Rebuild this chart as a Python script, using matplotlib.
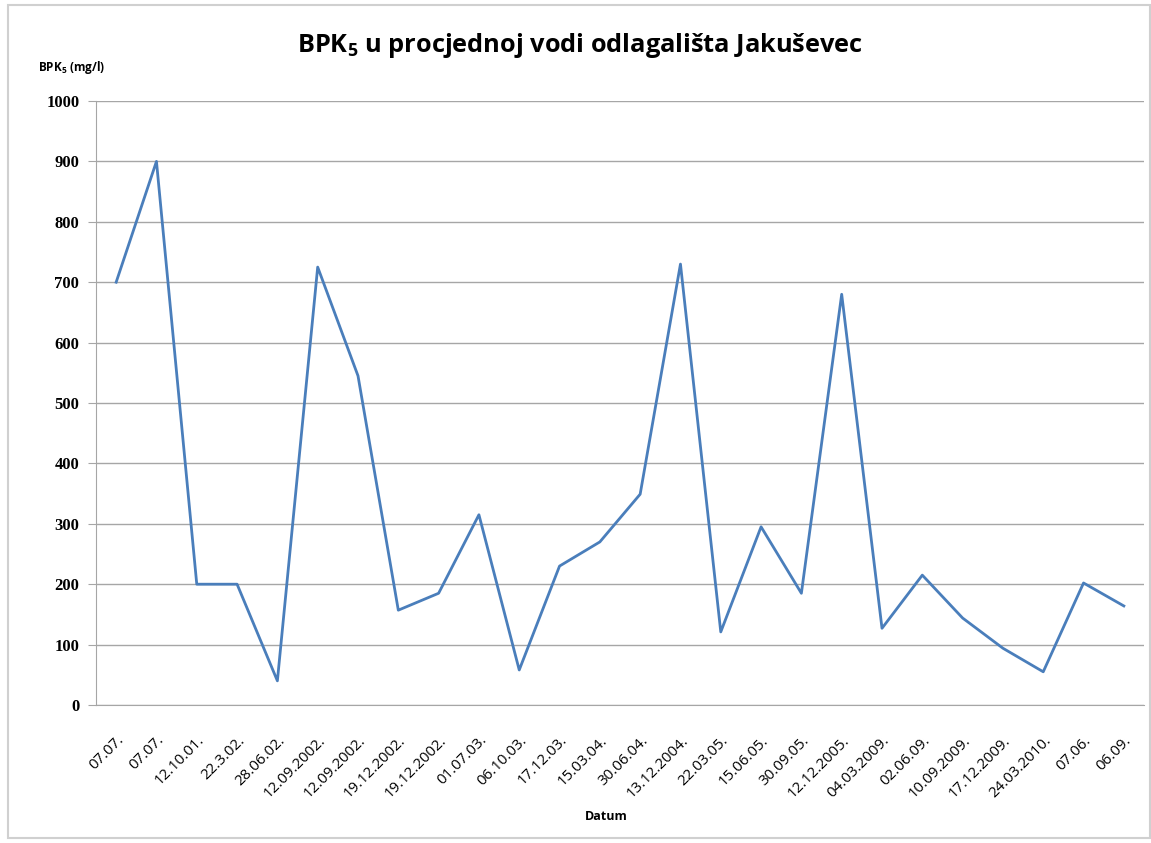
import matplotlib
matplotlib.use("Agg")
import matplotlib.pyplot as plt
from matplotlib.patches import Rectangle
from matplotlib.transforms import ScaledTranslation

dates = ["07.07.", "07.07.", "12.10.01.", "22.3.02.", "28.06.02.", "12.09.2002.",
         "12.09.2002.", "19.12.2002.", "19.12.2002.", "01.07.03.", "06.10.03.",
         "17.12.03.", "15.03.04.", "30.06.04.", "13.12.2004.", "22.03.05.",
         "15.06.05.", "30.09.05.", "12.12.2005.", "04.03.2009.", "02.06.09.",
         "10.09.2009.", "17.12.2009.", "24.03.2010.", "07.06.", "06.09."]
bpk5 = [700, 900, 200, 200, 40, 725, 545, 157, 185, 315, 58, 230, 270, 349,
        730, 121, 295, 185, 680, 127, 215, 144, 94, 55, 202, 164]
yticks = [0, 100, 200, 300, 400, 500, 600, 700, 800, 900, 1000]

plt.rcParams['font.family'] = ['Open Sans', 'DejaVu Sans']
plt.rcParams['mathtext.default'] = 'regular'

fig = plt.figure(figsize=(11.51, 8.43), dpi=100)
fig.patches.append(Rectangle((8/1151, 5/843), 1 - 8/1151 - 1/1151, 1 - 10/843,
                             transform=fig.transFigure, fill=False,
                             edgecolor='#d0d0d0', linewidth=1.5))
ax = fig.add_axes([96/1151, 138/843, (1144-96)/1151, (705-101)/843])

n = len(dates)
x = list(range(n))
ax.plot(x, bpk5, color='#4a7ebb', linewidth=2.0)
ax.set_xlim(-0.5, n - 0.5)
ax.set_ylim(0, 1000)
ax.set_yticks(yticks)
ax.set_yticklabels([str(v) for v in yticks], family='Liberation Serif',
                   fontweight='bold', fontsize=12)
ax.yaxis.grid(True, color='#a6a6a6', linewidth=1)
ax.set_axisbelow(True)
ax.set_xticks(x)
ax.set_xticklabels(dates, rotation=45, ha='right', rotation_mode='anchor',
                   fontsize=10.8)
offset = ScaledTranslation(3/100, 0, fig.dpi_scale_trans)
for lbl in ax.get_xticklabels():
    lbl.set_transform(lbl.get_transform() + offset)
ax.tick_params(axis='x', length=0, pad=20)
ax.tick_params(axis='y', length=6, color='#a6a6a6', pad=6)
for s in ['top', 'right']:
    ax.spines[s].set_visible(False)
for s in ['left', 'bottom']:
    ax.spines[s].set_color('#a6a6a6')

fig.text(580/1151, 1 - 45/843, 'BPK$_5$ u procjednoj vodi odlagališta Jakuševec',
         ha='center', va='center', fontsize=18.3, fontweight='bold')
fig.text(38/1151, 1 - 67/843, 'BPK$_5$ (mg/l)', ha='left', va='center',
         fontsize=8.5, fontweight='bold')
fig.text(606/1151, 1 - 817/843, 'Datum', ha='center', va='center',
         fontsize=9, fontweight='bold')

fig.savefig('out.png', dpi=100)
